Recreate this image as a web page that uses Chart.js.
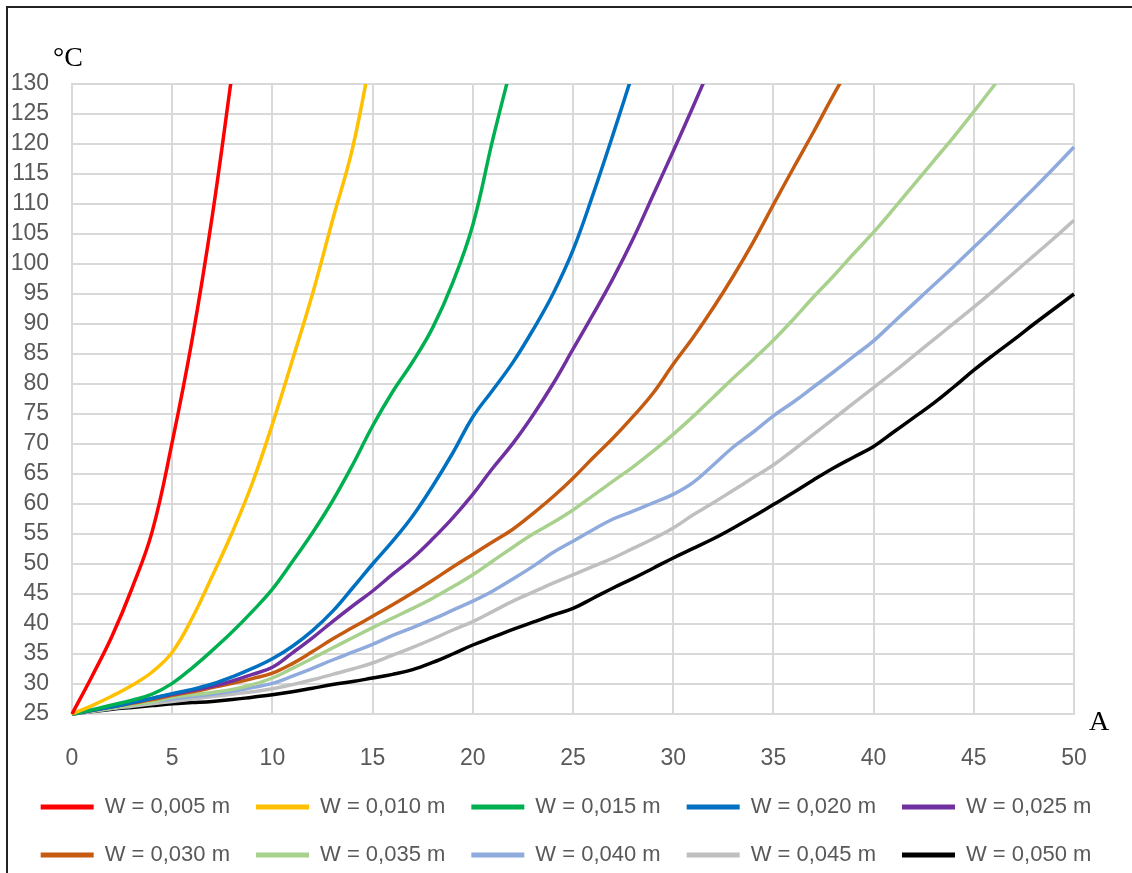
<!DOCTYPE html>
<html lang="pt">
<head>
<meta charset="UTF-8">
<title>Temperatura x Corrente</title>
<script src="https://cdn.jsdelivr.net/npm/chart.js@4.4.1/dist/chart.umd.min.js"></script>
<style>
  html, body { margin:0; padding:0; background:#fff; overflow:hidden; }
  #frame { position:absolute; left:6px; top:6px; width:1140px; height:900px; border-left:2px solid #222; border-top:2px solid #222; }
  #wrap { position:absolute; left:0; top:0; width:1132px; height:880px; }
</style>
</head>
<body>
<div id="frame"></div>
<div id="wrap"><canvas id="myChart"></canvas></div>
<script>
  // corrente (A) - eixo x
  var amps = [0,1,2,3,4,5,6,7,8,9,10,11,12,13,14,15,16,17,18,19,20,21,22,23,24,25,
              26,27,28,29,30,31,32,33,34,35,36,37,38,39,40,41,42,43,44,45,46,47,48,49,50];
  var xTicks = [0,5,10,15,20,25,30,35,40,45,50];
  var yTicks = [25,30,35,40,45,50,55,60,65,70,75,80,85,90,95,100,105,110,115,120,125,130];

  // temperatura (°C) por largura W
  var w005 = [25,31.3,38,46,55.4,70.3,87.5,108,132];
  var w010 = [25,26.4,28,29.8,32,35.3,41,48,55.3,63.5,73.3,84,95,107.3,119.3,136];
  var w015 = [25,25.7,26.5,27.3,28.3,30.1,32.7,35.6,38.7,42.1,45.8,50.4,55.2,60.5,66.5,73,78.7,83.7,89.4,96.9,106.5,120.8,134];
  var w020 = [25,25.6,26.2,26.9,27.6,28.4,29.1,30,31.2,32.6,34.2,36.3,38.9,42.1,46,50,53.8,58,63,68.5,74.5,79,83.6,89,95,102.3,111.6,121.6,132];
  var w025 = [25,25.6,26.2,26.9,27.6,28.3,28.9,29.6,30.5,31.6,32.8,35.2,37.7,40.4,43,45.5,48.3,51,54.2,57.7,61.6,66,70.1,74.8,80,85.8,91.6,97.6,104.2,111.5,118.8,126.3,134];
  var w030 = [25,25.6,26.2,26.8,27.4,28.1,28.7,29.4,30.1,30.9,31.8,33.4,35.4,37.5,39.4,41.3,43.2,45.2,47.3,49.5,51.6,53.7,55.8,58.4,61.2,64.3,67.7,71,74.6,78.5,83.3,87.8,92.7,98,103.7,109.9,116,122,128.2,134];
  var w035 = [25,25.5,26,26.5,27,27.8,28.2,28.6,29.1,29.9,31,32.6,34.3,36,37.7,39.4,41,42.6,44.3,46.2,48.2,50.5,52.8,55,56.9,59,61.4,63.8,66.2,68.8,71.6,74.6,77.8,81,84.1,87.3,90.8,94.5,98,101.7,105.3,109.2,113.2,117.2,121.2,125.4,129.7,134];
  var w040 = [25,25.5,26,26.5,27,27.5,27.9,28.3,28.8,29.4,30.1,31.3,32.6,34,35.3,36.6,38.1,39.4,40.8,42.3,43.8,45.5,47.5,49.6,51.9,53.8,55.7,57.5,58.8,60.2,61.6,63.6,66.5,69.5,72,74.7,77,79.5,82,84.6,87.2,90.3,93.4,96.5,99.6,102.8,106,109.3,112.6,116,119.5];
  var w045 = [25,25.4,25.9,26.3,26.7,27.1,27.5,27.9,28.3,28.7,29.2,29.9,30.7,31.6,32.5,33.5,34.8,36.1,37.5,39,40.4,42.1,43.8,45.3,46.8,48.2,49.6,51,52.6,54.2,56,58.2,60.2,62.3,64.4,66.5,69,71.6,74.2,76.8,79.4,82,84.7,87.4,90.1,92.8,95.6,98.5,101.4,104.3,107.3];
  var w050 = [25,25.4,25.8,26.1,26.4,26.7,26.9,27.1,27.4,27.8,28.2,28.7,29.3,29.9,30.4,31,31.6,32.4,33.6,35,36.5,37.8,39.1,40.3,41.5,42.6,44.3,46,47.6,49.3,51,52.6,54.2,56,57.9,59.9,61.9,64,66,67.8,69.6,72,74.4,76.8,79.5,82.3,84.9,87.4,90,92.5,95];

  var seriesNames = ['W = 0,005 m','W = 0,010 m','W = 0,015 m','W = 0,020 m','W = 0,025 m',
                     'W = 0,030 m','W = 0,035 m','W = 0,040 m','W = 0,045 m','W = 0,050 m'];
  var seriesData = [w005, w010, w015, w020, w025, w030, w035, w040, w045, w050];
  var seriesColors = ['#ff0000','#ffc000','#00b050','#0070c0','#7030a0',
                      '#c55a11','#a9d18e','#8faadc','#bfbfbf','#000000'];

  var sansFont = "'Liberation Sans Narrow', 'Liberation Sans', Arial, sans-serif";

  function toPoints(vals){
    return vals.map(function(v, i){ return {x: amps[i], y: v}; });
  }

  var v_datasets = seriesData.map(function(vals, i){
    return {
      label: seriesNames[i],
      data: toPoints(vals),
      borderColor: seriesColors[i],
      backgroundColor: seriesColors[i],
      borderWidth: 3.5,
      pointRadius: 0,
      tension: 0.4,
      clip: {left: 5, top: 0, right: 5, bottom: 5}
    };
  });

  // unidades "°C" e "A" escritas nos cantos do grafico
  var axisUnits = {
    id: 'axisUnits',
    afterDraw: function(chart){
      var ctx = chart.ctx, a = chart.chartArea;
      ctx.save();
      ctx.font = "28px 'Liberation Serif', 'Times New Roman', serif";
      ctx.fillStyle = '#000';
      ctx.textBaseline = 'alphabetic';
      ctx.textAlign = 'left';
      ctx.fillText('°C', a.left - 19, 66);
      ctx.fillText('A', a.right + 15, a.bottom + 16);
      ctx.restore();
    }
  };

  var ctx = document.getElementById('myChart').getContext('2d');
  var myChart = new Chart(ctx, {
    type: 'line',
    data: { datasets: v_datasets },
    options: {
      responsive: true,
      maintainAspectRatio: false,
      animation: false,
      layout: { padding: { left: 0, top: 84, right: 0, bottom: 4 } },
      plugins: {
        tooltip: { enabled: false },
        legend: {
          position: 'bottom',
          labels: {
            boxWidth: 53,
            boxHeight: 5,
            padding: 26,
            color: '#595959',
            font: { family: sansFont, size: 22 },
            generateLabels: function(chart){
              var items = Chart.defaults.plugins.legend.labels.generateLabels(chart);
              items.forEach(function(it){ it.lineWidth = 0; });
              return items;
            }
          }
        }
      },
      scales: {
        x: {
          type: 'linear',
          min: 0, max: 50,
          afterBuildTicks: function(s){ s.ticks = xTicks.map(function(v){ return {value: v}; }); },
          afterFit: function(s){ s.height = 56; },
          ticks: { autoSkip: false, padding: 31.2, color: '#595959', font: { family: sansFont, size: 23 } },
          grid: { color: '#d9d9d9', lineWidth: 2, drawTicks: false },
          border: { color: '#d9d9d9', width: 2 }
        },
        y: {
          type: 'linear',
          min: 25, max: 130,
          afterBuildTicks: function(s){ s.ticks = yTicks.map(function(v){ return {value: v}; }); },
          afterFit: function(s){ s.width = 72; },
          ticks: { autoSkip: false, padding: 23, color: '#595959', font: { family: sansFont, size: 23 } },
          grid: { color: '#d9d9d9', lineWidth: 2, drawTicks: false },
          border: { color: '#d9d9d9', width: 2 }
        },
        // eixo vazio a direita so para reservar o espaco do "A"
        yRight: {
          position: 'right',
          afterFit: function(s){ s.width = 58; },
          ticks: { display: false },
          grid: { display: false },
          border: { display: false }
        }
      }
    },
    plugins: [axisUnits]
  });
</script>
</body>
</html>
